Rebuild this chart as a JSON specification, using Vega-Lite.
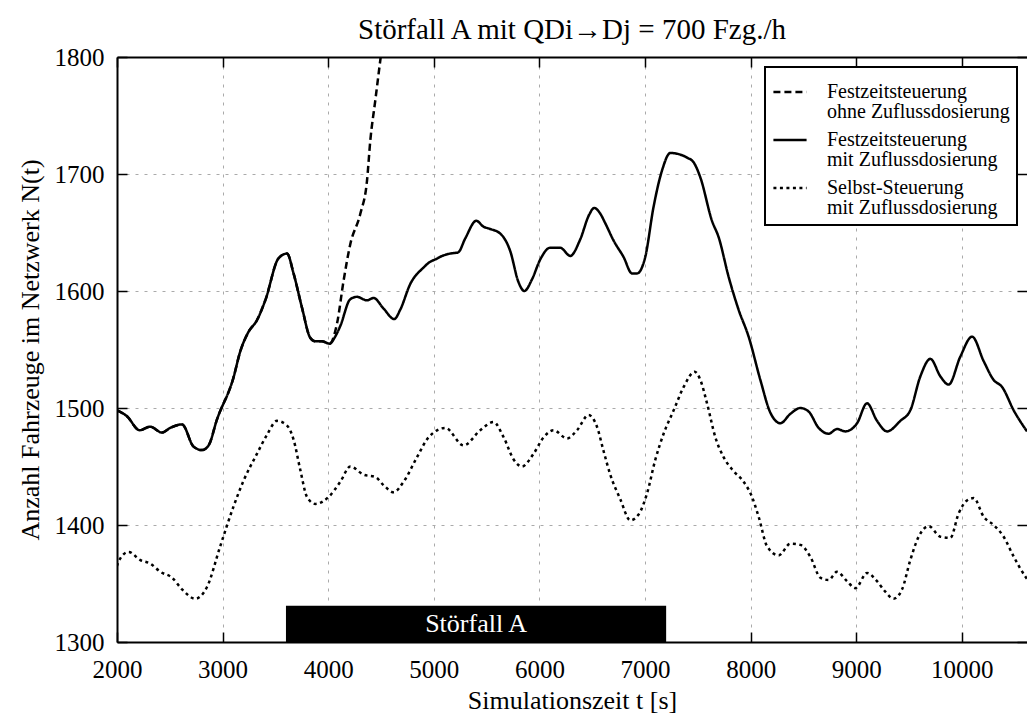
{
  "$schema": "https://vega.github.io/schema/vega-lite/v6.json",
  "width": 910,
  "height": 585,
  "autosize": {"type": "none"},
  "padding": {"left": 117, "top": 57, "right": 0, "bottom": 78},
  "background": "white",
  "title": {"text": "Störfall A mit QDi→Dj = 700 Fzg./h", "font": "Liberation Serif", "fontSize": 29, "fontWeight": "normal", "color": "black", "offset": 0},
  "config": {
    "view": {"stroke": null},
    "font": "Liberation Serif",
    "axis": {
      "domainColor": "black", "domainWidth": 2, "tickColor": "black", "tickWidth": 1.5, "tickSize": -10,
      "labelFont": "Liberation Serif", "labelFontSize": 25, "labelColor": "black", "labelPadding": 21, "format": "d", "labelFlush": false,
      "titleFont": "Liberation Serif", "titleFontSize": 26, "titleFontWeight": "normal", "titleColor": "black",
      "gridColor": "#aaaaaa", "gridDash": [3, 6], "gridWidth": 1
    },
    "legend": {"strokeWidth": 2}
  },
  "datasets": {
    "stoer": [{"von": 3600, "bis": 7200, "unten": 1300, "oben": 1331, "mitte": 5400, "ym": 1315.5, "label": "Störfall A"}],
    "ohne": [
      {"t": 2000, "n": 1498}, {"t": 2094, "n": 1493}, {"t": 2214, "n": 1481}, {"t": 2315, "n": 1484}, {"t": 2426, "n": 1479},
      {"t": 2504, "n": 1483}, {"t": 2616, "n": 1486}, {"t": 2725, "n": 1467}, {"t": 2805, "n": 1464}, {"t": 2867, "n": 1468},
      {"t": 2946, "n": 1490}, {"t": 3103, "n": 1526}, {"t": 3166, "n": 1548}, {"t": 3245, "n": 1565}, {"t": 3325, "n": 1575},
      {"t": 3404, "n": 1592}, {"t": 3530, "n": 1628}, {"t": 3610, "n": 1632}, {"t": 3672, "n": 1615}, {"t": 3751, "n": 1586},
      {"t": 3830, "n": 1560}, {"t": 3877, "n": 1557}, {"t": 3940, "n": 1557}, {"t": 4013, "n": 1555}, {"t": 4083, "n": 1572},
      {"t": 4146, "n": 1609}, {"t": 4209, "n": 1640}, {"t": 4304, "n": 1666}, {"t": 4367, "n": 1694}, {"t": 4399, "n": 1729},
      {"t": 4446, "n": 1763}, {"t": 4497, "n": 1800}
    ],
    "mit": [
      {"t": 2000, "n": 1498}, {"t": 2094, "n": 1493}, {"t": 2214, "n": 1481}, {"t": 2315, "n": 1484}, {"t": 2426, "n": 1479},
      {"t": 2504, "n": 1483}, {"t": 2616, "n": 1486}, {"t": 2725, "n": 1467}, {"t": 2805, "n": 1464}, {"t": 2867, "n": 1468},
      {"t": 2946, "n": 1490}, {"t": 3103, "n": 1526}, {"t": 3166, "n": 1548}, {"t": 3245, "n": 1565}, {"t": 3325, "n": 1575},
      {"t": 3404, "n": 1592}, {"t": 3530, "n": 1628}, {"t": 3610, "n": 1632}, {"t": 3672, "n": 1615}, {"t": 3751, "n": 1586},
      {"t": 3830, "n": 1560}, {"t": 3877, "n": 1557}, {"t": 3940, "n": 1557}, {"t": 4013, "n": 1555}, {"t": 4066, "n": 1561},
      {"t": 4114, "n": 1570}, {"t": 4209, "n": 1593}, {"t": 4272, "n": 1595}, {"t": 4367, "n": 1592}, {"t": 4430, "n": 1594},
      {"t": 4524, "n": 1585}, {"t": 4625, "n": 1576}, {"t": 4682, "n": 1584}, {"t": 4777, "n": 1606}, {"t": 4902, "n": 1620},
      {"t": 4966, "n": 1625}, {"t": 5014, "n": 1627}, {"t": 5080, "n": 1630}, {"t": 5156, "n": 1632}, {"t": 5230, "n": 1633},
      {"t": 5298, "n": 1645}, {"t": 5402, "n": 1660}, {"t": 5470, "n": 1655}, {"t": 5535, "n": 1653}, {"t": 5630, "n": 1649},
      {"t": 5724, "n": 1634}, {"t": 5800, "n": 1608}, {"t": 5857, "n": 1600}, {"t": 5930, "n": 1610}, {"t": 6008, "n": 1627},
      {"t": 6102, "n": 1637}, {"t": 6197, "n": 1637}, {"t": 6292, "n": 1630}, {"t": 6386, "n": 1644}, {"t": 6470, "n": 1665},
      {"t": 6519, "n": 1671}, {"t": 6577, "n": 1666}, {"t": 6623, "n": 1658}, {"t": 6703, "n": 1643}, {"t": 6797, "n": 1629},
      {"t": 6877, "n": 1615}, {"t": 6924, "n": 1615}, {"t": 7002, "n": 1629}, {"t": 7081, "n": 1672}, {"t": 7161, "n": 1703},
      {"t": 7240, "n": 1718}, {"t": 7318, "n": 1717}, {"t": 7398, "n": 1714}, {"t": 7460, "n": 1710}, {"t": 7524, "n": 1697},
      {"t": 7634, "n": 1660}, {"t": 7697, "n": 1646}, {"t": 7792, "n": 1612}, {"t": 7886, "n": 1584}, {"t": 7981, "n": 1561},
      {"t": 8092, "n": 1524}, {"t": 8187, "n": 1496}, {"t": 8282, "n": 1487}, {"t": 8376, "n": 1495}, {"t": 8471, "n": 1500},
      {"t": 8549, "n": 1497}, {"t": 8644, "n": 1483}, {"t": 8739, "n": 1478}, {"t": 8818, "n": 1482}, {"t": 8897, "n": 1480},
      {"t": 9008, "n": 1487}, {"t": 9102, "n": 1504}, {"t": 9197, "n": 1489}, {"t": 9292, "n": 1480}, {"t": 9418, "n": 1489},
      {"t": 9512, "n": 1498}, {"t": 9607, "n": 1527}, {"t": 9702, "n": 1542}, {"t": 9797, "n": 1527}, {"t": 9875, "n": 1520},
      {"t": 9986, "n": 1544}, {"t": 10097, "n": 1561}, {"t": 10207, "n": 1540}, {"t": 10301, "n": 1524}, {"t": 10381, "n": 1518},
      {"t": 10491, "n": 1498}, {"t": 10617, "n": 1480}
    ],
    "selbst": [
      {"t": 2000, "n": 1365}, {"t": 2015, "n": 1369}, {"t": 2110, "n": 1377}, {"t": 2221, "n": 1370}, {"t": 2315, "n": 1367},
      {"t": 2410, "n": 1360}, {"t": 2521, "n": 1355}, {"t": 2616, "n": 1345}, {"t": 2741, "n": 1337}, {"t": 2852, "n": 1347},
      {"t": 2978, "n": 1382}, {"t": 3104, "n": 1416}, {"t": 3199, "n": 1438}, {"t": 3326, "n": 1461}, {"t": 3420, "n": 1477},
      {"t": 3515, "n": 1489}, {"t": 3610, "n": 1485}, {"t": 3672, "n": 1473}, {"t": 3736, "n": 1447}, {"t": 3799, "n": 1424},
      {"t": 3878, "n": 1418}, {"t": 4004, "n": 1424}, {"t": 4115, "n": 1437}, {"t": 4209, "n": 1450}, {"t": 4335, "n": 1443},
      {"t": 4446, "n": 1441}, {"t": 4525, "n": 1434}, {"t": 4619, "n": 1428}, {"t": 4714, "n": 1437}, {"t": 4841, "n": 1458},
      {"t": 4951, "n": 1475}, {"t": 5109, "n": 1483}, {"t": 5282, "n": 1468}, {"t": 5440, "n": 1481}, {"t": 5566, "n": 1488},
      {"t": 5661, "n": 1475}, {"t": 5756, "n": 1456}, {"t": 5835, "n": 1450}, {"t": 5945, "n": 1461}, {"t": 6040, "n": 1475},
      {"t": 6134, "n": 1481}, {"t": 6261, "n": 1474}, {"t": 6356, "n": 1481}, {"t": 6466, "n": 1494}, {"t": 6545, "n": 1484},
      {"t": 6608, "n": 1463}, {"t": 6671, "n": 1443}, {"t": 6766, "n": 1422}, {"t": 6860, "n": 1404}, {"t": 6939, "n": 1409},
      {"t": 7019, "n": 1427}, {"t": 7098, "n": 1456}, {"t": 7176, "n": 1478}, {"t": 7271, "n": 1498}, {"t": 7366, "n": 1518},
      {"t": 7470, "n": 1531}, {"t": 7524, "n": 1524}, {"t": 7587, "n": 1504}, {"t": 7666, "n": 1475}, {"t": 7744, "n": 1458},
      {"t": 7839, "n": 1446}, {"t": 7934, "n": 1437}, {"t": 8013, "n": 1424}, {"t": 8076, "n": 1407}, {"t": 8155, "n": 1382},
      {"t": 8265, "n": 1374}, {"t": 8376, "n": 1384}, {"t": 8471, "n": 1383}, {"t": 8565, "n": 1373}, {"t": 8660, "n": 1355},
      {"t": 8739, "n": 1353}, {"t": 8818, "n": 1360}, {"t": 8913, "n": 1352}, {"t": 8992, "n": 1346}, {"t": 9102, "n": 1359},
      {"t": 9197, "n": 1352}, {"t": 9275, "n": 1343}, {"t": 9354, "n": 1337}, {"t": 9434, "n": 1345}, {"t": 9512, "n": 1370},
      {"t": 9591, "n": 1390}, {"t": 9686, "n": 1399}, {"t": 9797, "n": 1390}, {"t": 9891, "n": 1389}, {"t": 9970, "n": 1410},
      {"t": 10049, "n": 1421}, {"t": 10112, "n": 1423}, {"t": 10207, "n": 1407}, {"t": 10301, "n": 1400}, {"t": 10396, "n": 1390},
      {"t": 10491, "n": 1373}, {"t": 10601, "n": 1356}, {"t": 10617, "n": 1354}
    ]
  },
  "layer": [
    {
      "data": {"name": "stoer"},
      "mark": {"type": "rect", "color": "black"},
      "encoding": {
        "x": {"field": "von", "type": "quantitative", "scale": {"domain": [2000, 10617], "nice": false, "zero": false},
              "axis": {"orient": "top", "labels": false, "title": null, "grid": false, "values": [2000, 3000, 4000, 5000, 6000, 7000, 8000, 9000, 10000]}},
        "x2": {"field": "bis"},
        "y": {"field": "unten", "type": "quantitative", "scale": {"domain": [1300, 1800], "nice": false, "zero": false},
              "axis": {"orient": "right", "labels": false, "title": null, "grid": false, "domain": false, "values": [1300, 1400, 1500, 1600, 1700, 1800]}},
        "y2": {"field": "oben"}
      }
    },
    {
      "data": {"name": "stoer"},
      "mark": {"type": "text", "color": "white", "font": "Liberation Serif", "fontSize": 26, "baseline": "middle", "align": "center"},
      "encoding": {
        "x": {"field": "mitte", "type": "quantitative", "scale": {"domain": [2000, 10617], "nice": false, "zero": false}, "axis": null},
        "y": {"field": "ym", "type": "quantitative", "scale": {"domain": [1300, 1800], "nice": false, "zero": false}, "axis": null},
        "text": {"field": "label"}
      }
    },
    {
      "data": {"name": "ohne"},
      "mark": {"type": "line", "color": "black", "strokeWidth": 2.5, "interpolate": "monotone", "strokeCap": "butt", "clip": true},
      "encoding": {
        "x": {"field": "t", "type": "quantitative", "scale": {"domain": [2000, 10617], "nice": false, "zero": false},
              "axis": {"orient": "bottom", "title": "Simulationszeit t [s]", "grid": true, "labelPadding": 25, "titlePadding": 5, "values": [2000, 3000, 4000, 5000, 6000, 7000, 8000, 9000, 10000]}},
        "y": {"field": "n", "type": "quantitative", "scale": {"domain": [1300, 1800], "nice": false, "zero": false},
              "axis": {"orient": "left", "title": "Anzahl Fahrzeuge im Netzwerk N(t)", "grid": true, "labelPadding": 23, "titlePadding": 11, "values": [1300, 1400, 1500, 1600, 1700, 1800]}},
        "strokeDash": {
          "datum": "Festzeitsteuerung ohne Zuflussdosierung", "type": "nominal",
          "scale": {"domain": ["Festzeitsteuerung ohne Zuflussdosierung", "Festzeitsteuerung mit Zuflussdosierung", "Selbst-Steuerung mit Zuflussdosierung"],
                    "range": [[7, 4], [1, 0], [3, 3.5]]},
          "legend": {
            "orient": "top-right", "offset": 10, "title": null, "symbolType": "stroke", "symbolStrokeColor": "black",
            "symbolStrokeWidth": 2.5, "symbolSize": 1100, "labelFont": "Liberation Serif", "labelFontSize": 20, "labelColor": "black",
            "labelExpr": "[substring(datum.label, 0, indexof(datum.label, ' ')), substring(datum.label, indexof(datum.label, ' ') + 1)]",
            "strokeColor": "black", "fillColor": "white", "padding": 7, "rowPadding": 0, "labelOffset": 19, "labelLimit": 400,
            "encode": {"labels": {"update": {"lineHeight": {"value": 20}}}}
          }
        }
      }
    },
    {
      "data": {"name": "selbst"},
      "mark": {"type": "line", "color": "black", "strokeWidth": 2.5, "interpolate": "monotone", "strokeCap": "butt", "clip": true},
      "encoding": {
        "x": {"field": "t", "type": "quantitative", "scale": {"domain": [2000, 10617], "nice": false, "zero": false}, "axis": null},
        "y": {"field": "n", "type": "quantitative", "scale": {"domain": [1300, 1800], "nice": false, "zero": false}, "axis": null},
        "strokeDash": {"datum": "Selbst-Steuerung mit Zuflussdosierung", "type": "nominal"}
      }
    },
    {
      "data": {"name": "mit"},
      "mark": {"type": "line", "color": "black", "strokeWidth": 2.5, "interpolate": "monotone", "strokeCap": "butt", "clip": true},
      "encoding": {
        "x": {"field": "t", "type": "quantitative", "scale": {"domain": [2000, 10617], "nice": false, "zero": false}, "axis": null},
        "y": {"field": "n", "type": "quantitative", "scale": {"domain": [1300, 1800], "nice": false, "zero": false}, "axis": null},
        "strokeDash": {"datum": "Festzeitsteuerung mit Zuflussdosierung", "type": "nominal"}
      }
    }
  ],
  "resolve": {"axis": {"x": "independent", "y": "independent"}}
}
